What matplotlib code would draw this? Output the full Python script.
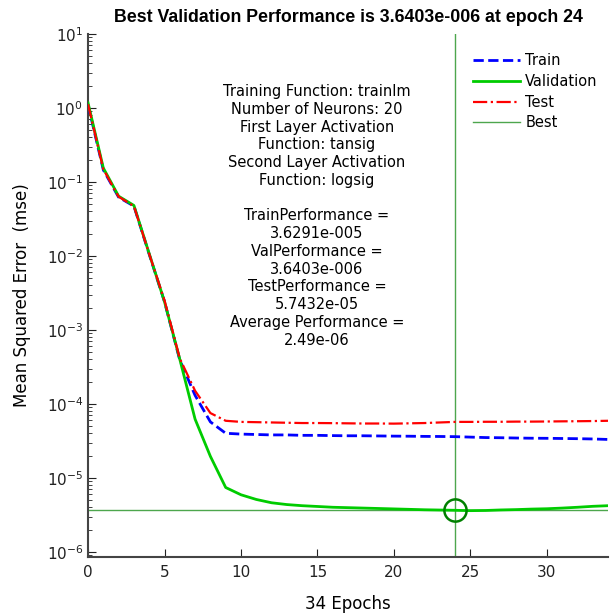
import matplotlib.pyplot as plt
import numpy as np

epochs = np.arange(0, 35)

# MSE per epoch
train_mse = [1.10, 0.145, 0.062, 0.047, 0.0105, 0.0024, 3.9e-4, 1.3e-4, 5.7e-5, 4.0e-5,
             3.9e-5, 3.85e-5, 3.8e-5, 3.8e-5, 3.75e-5, 3.75e-5, 3.72e-5, 3.7e-5, 3.7e-5, 3.68e-5,
             3.66e-5, 3.65e-5, 3.63e-5, 3.62e-5, 3.6e-5, 3.55e-5, 3.5e-5, 3.48e-5, 3.45e-5, 3.43e-5,
             3.42e-5, 3.4e-5, 3.38e-5, 3.35e-5, 3.3e-5]
val_mse = [1.17, 0.154, 0.064, 0.048, 0.0107, 0.0024, 4.0e-4, 6.2e-5, 1.95e-5, 7.4e-6,
           5.9e-6, 5.1e-6, 4.6e-6, 4.35e-6, 4.2e-6, 4.1e-6, 4.0e-6, 3.95e-6, 3.9e-6, 3.85e-6,
           3.8e-6, 3.75e-6, 3.7e-6, 3.67e-6, 3.6403e-6, 3.6e-6, 3.62e-6, 3.68e-6, 3.72e-6, 3.78e-6,
           3.82e-6, 3.9e-6, 4.0e-6, 4.12e-6, 4.2e-6]
test_mse = [1.12, 0.148, 0.063, 0.047, 0.0106, 0.0025, 4.1e-4, 1.5e-4, 7.5e-5, 5.9e-5,
            5.7e-5, 5.65e-5, 5.6e-5, 5.55e-5, 5.5e-5, 5.5e-5, 5.48e-5, 5.45e-5, 5.42e-5, 5.42e-5,
            5.4e-5, 5.45e-5, 5.5e-5, 5.6e-5, 5.7e-5, 5.7e-5, 5.72e-5, 5.72e-5, 5.75e-5, 5.75e-5,
            5.77e-5, 5.8e-5, 5.82e-5, 5.85e-5, 5.9e-5]

best_epoch = 24
best_val = 3.6403e-6

info = ("Training Function: trainlm\nNumber of Neurons: 20\nFirst Layer Activation\n"
        "Function: tansig\nSecond Layer Activation\nFunction: logsig\n\n"
        "TrainPerformance =\n3.6291e-005\nValPerformance =\n3.6403e-006\n"
        "TestPerformance =\n5.7432e-05\nAverage Performance =\n2.49e-06")

fig = plt.figure(figsize=(6.13, 6.16), dpi=100)
ax = fig.add_axes([0.1436, 0.0958, 0.8484, 0.8492])

best_col = (0.3, 0.65, 0.3)
ax.plot(epochs, train_mse, color='blue', ls='--', lw=2, label='Train', zorder=3)
ax.plot(epochs, val_mse, color=(0, 0.8, 0), ls='-', lw=2, label='Validation', zorder=3)
ax.plot(epochs, test_mse, color='red', ls='-.', lw=1.6, label='Test', zorder=3)
ax.axhline(best_val, color=best_col, lw=1, label='Best', zorder=2)
ax.axvline(best_epoch, color=best_col, lw=1, zorder=2)
ax.plot([best_epoch], [best_val], 'o', mfc='none', mec=(0, 0.5, 0), mew=1.8, ms=16, zorder=4)

ax.set_yscale('log')
ax.set_xlim(0, 34)
ax.set_ylim(10**-6.07, 10)
ax.set_xticks([0, 5, 10, 15, 20, 25, 30])

for s in ['top', 'right']:
    ax.spines[s].set_visible(False)
for s in ['left', 'bottom']:
    ax.spines[s].set_color('#444444')
    ax.spines[s].set_linewidth(1.5)
ax.tick_params(direction='in', which='both', labelsize=11, colors='#222222')
ax.tick_params(which='major', length=6)
ax.tick_params(which='minor', length=3)
ax.tick_params(axis='x', pad=5.5)

ax.set_title("Best Validation Performance is 3.6403e-006 at epoch 24",
             fontsize=12.8, fontweight='bold', family='Liberation Sans', pad=8.5)
ax.set_xlabel("34 Epochs", fontsize=12, labelpad=11)
ax.set_ylabel("Mean Squared Error  (mse)", fontsize=12, labelpad=11)

fig.text(317 / 613, 1 - 84 / 616, info, ha='center', va='top', fontsize=10.5,
         linespacing=1.23)

ax.legend(loc='upper right', frameon=False, fontsize=10.5, handlelength=3.2,
          borderaxespad=0.3, labelspacing=0.4, handletextpad=0.4,
          bbox_to_anchor=(1.0, 0.983))

fig.savefig('out.png', dpi=100)
